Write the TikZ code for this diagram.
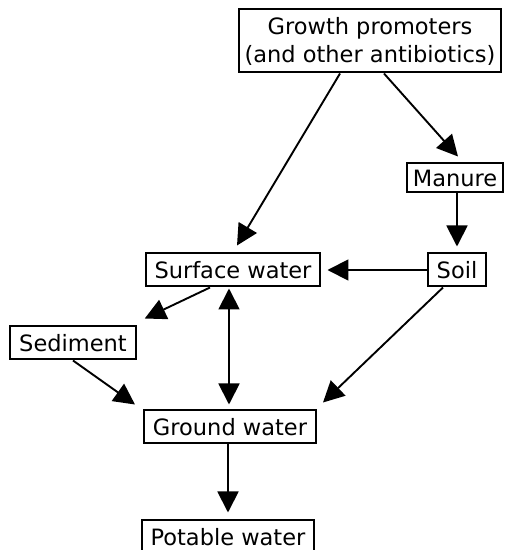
\documentclass[tikz,border=0pt]{standalone}
\usepackage{fontspec}
\setmainfont{DejaVu Sans}
\usetikzlibrary{arrows.meta}

\tikzset{
  box/.style={draw, line width=2pt, inner xsep=9pt, inner ysep=0pt,
    minimum height=33pt, font=\fontsize{22.5}{28}\selectfont, align=center},
  flow/.style={line width=1.9pt, -{Triangle[length=21pt,width=21pt]}},
}

\begin{document}
\begin{tikzpicture}[x=1pt,y=1pt]
\useasboundingbox (0,0) rectangle (508,550);
\node[box, minimum height=63pt, inner xsep=6pt] (growth) at (370,509) {Growth promoters\\(and other antibiotics)};
\node[box, minimum height=29pt, inner xsep=6pt] (manure) at (455,372) {Manure};
\node[box] (soil) at (457,280) {Soil};
\node[box] (surface) at (233,280) {Surface water};
\node[box] (sediment) at (73,207) {Sediment};
\node[box] (ground) at (230,123) {Ground water};
\node[box] (potable) at (228,13) {Potable water};

\draw[flow] ([xshift=-30pt]growth.south) -- ([shift={(4pt,7pt)}]surface.north);
\draw[flow] ([xshift=14pt]growth.south) -- ([shift={(3pt,6pt)}]manure.north);
\draw[flow] ([xshift=2pt]manure.south) -- ([yshift=6pt]soil.north);
\draw[flow] (soil.west) -- ([xshift=6pt]surface.east);
\draw[flow] ([xshift=-23pt]surface.south) -- ([shift={(8pt,7pt)}]sediment.north east);
\draw[flow, {Triangle[length=21pt,width=21pt]}-{Triangle[length=21pt,width=21pt]}] ([shift={(-4pt,-1pt)}]surface.south) -- ([shift={(-1pt,5pt)}]ground.north);
\draw[flow] (sediment.south) -- ([shift={(-8pt,5pt)}]ground.north west);
\draw[flow] ([xshift=-14pt]soil.south) -- ([shift={(6pt,7pt)}]ground.north east);
\draw[flow] ([xshift=-2pt]ground.south) -- ([yshift=7pt]potable.north);
\end{tikzpicture}
\end{document}
